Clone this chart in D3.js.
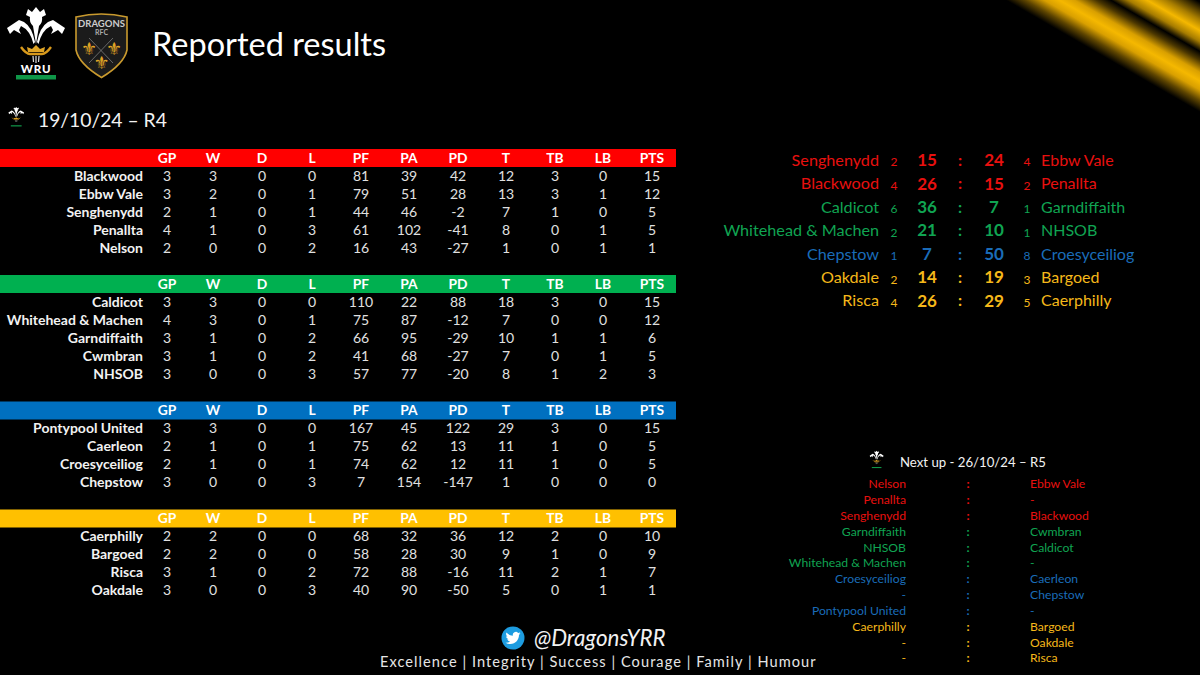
<!DOCTYPE html>
<html lang="en">
<head>
<meta charset="utf-8">
<title>Reported results</title>
<script src="https://d3js.org/d3.v7.min.js"></script>
<style>
  html, body { margin: 0; padding: 0; background: #000; }
  svg { display: block; }
  text { font-family: Lato, "Open Sans", sans-serif; }
</style>
</head>
<body>
<script>
// league tables
const columns = ["GP", "W", "D", "L", "PF", "PA", "PD", "T", "TB", "LB", "PTS"];

const redTeams = ["Blackwood", "Ebbw Vale", "Senghenydd", "Penallta", "Nelson"];
const redStats = [
  [3, 3, 0, 0, 81, 39, 42, 12, 3, 0, 15],
  [3, 2, 0, 1, 79, 51, 28, 13, 3, 1, 12],
  [2, 1, 0, 1, 44, 46, -2, 7, 1, 0, 5],
  [4, 1, 0, 3, 61, 102, -41, 8, 0, 1, 5],
  [2, 0, 0, 2, 16, 43, -27, 1, 0, 1, 1]
];
const greenTeams = ["Caldicot", "Whitehead & Machen", "Garndiffaith", "Cwmbran", "NHSOB"];
const greenStats = [
  [3, 3, 0, 0, 110, 22, 88, 18, 3, 0, 15],
  [4, 3, 0, 1, 75, 87, -12, 7, 0, 0, 12],
  [3, 1, 0, 2, 66, 95, -29, 10, 1, 1, 6],
  [3, 1, 0, 2, 41, 68, -27, 7, 0, 1, 5],
  [3, 0, 0, 3, 57, 77, -20, 8, 1, 2, 3]
];
const blueTeams = ["Pontypool United", "Caerleon", "Croesyceiliog", "Chepstow"];
const blueStats = [
  [3, 3, 0, 0, 167, 45, 122, 29, 3, 0, 15],
  [2, 1, 0, 1, 75, 62, 13, 11, 1, 0, 5],
  [2, 1, 0, 1, 74, 62, 12, 11, 1, 0, 5],
  [3, 0, 0, 3, 7, 154, -147, 1, 0, 0, 0]
];
const yellowTeams = ["Caerphilly", "Bargoed", "Risca", "Oakdale"];
const yellowStats = [
  [2, 2, 0, 0, 68, 32, 36, 12, 2, 0, 10],
  [2, 2, 0, 0, 58, 28, 30, 9, 1, 0, 9],
  [3, 1, 0, 2, 72, 88, -16, 11, 2, 1, 7],
  [3, 0, 0, 3, 40, 90, -50, 5, 0, 1, 1]
];

// reported results
const resultPool = ["red", "red", "green", "green", "blue", "yellow", "yellow"];
const homeTeams = ["Senghenydd", "Blackwood", "Caldicot", "Whitehead & Machen", "Chepstow", "Oakdale", "Risca"];
const homeTries = [2, 4, 6, 2, 1, 2, 4];
const homeScores = [15, 26, 36, 21, 7, 14, 26];
const awayScores = [24, 15, 7, 10, 50, 19, 29];
const awayTries = [4, 2, 1, 1, 8, 3, 5];
const awayTeams = ["Ebbw Vale", "Penallta", "Garndiffaith", "NHSOB", "Croesyceiliog", "Bargoed", "Caerphilly"];

// next round
const nextPool = ["red", "red", "red", "green", "green", "green", "blue", "blue", "blue", "yellow", "yellow", "yellow"];
const nextHome = ["Nelson", "Penallta", "Senghenydd", "Garndiffaith", "NHSOB", "Whitehead & Machen", "Croesyceiliog", "-", "Pontypool United", "Caerphilly", "-", "-"];
const nextAway = ["Ebbw Vale", "-", "Blackwood", "Cwmbran", "Caldicot", "-", "Caerleon", "Chepstow", "-", "Bargoed", "Oakdale", "Risca"];

const values = ["Excellence", "Integrity", "Success", "Courage", "Family", "Humour"];

const w = 1200, h = 675;
const colour = d3.scaleOrdinal()
  .domain(["red", "green", "blue", "yellow"])
  .range(["#ff0000", "#00b050", "#0070c0", "#ffc000"]);
const textColour = d3.scaleOrdinal()
  .domain(["red", "green", "blue", "yellow"])
  .range(["#e8100f", "#10a452", "#1a6cb8", "#f5b81a"]);

const svg = d3.select("body").append("svg").attr("width", w).attr("height", h);
svg.append("rect").attr("width", w).attr("height", h).attr("fill", "#000");

// stripes top right
const grad = svg.append("defs").append("linearGradient")
  .attr("id", "stripes").attr("gradientUnits", "userSpaceOnUse")
  .attr("x1", 1200).attr("y1", 112).attr("x2", 1247.6).attr("y2", 29.5);
[[0, "#000"], [0.1, "#5e4500"], [0.2, "#d9a000"], [0.28, "#f5b800"], [0.36, "#d9a000"], [0.47, "#4a3600"], [0.55, "#000"],
 [0.64, "#a67c00"], [0.74, "#f5b800"], [0.84, "#a67c00"], [1, "#000"]].forEach(s => {
  grad.append("stop").attr("offset", s[0]).attr("stop-color", s[1]);
});
svg.append("rect").attr("x", 990).attr("y", 0).attr("width", 210).attr("height", 125).attr("fill", "url(#stripes)");

// WRU feathers, drawn in its own 0-72 box
function feathers(g, withText) {
  g.append("path").attr("fill", "#fff")
    .attr("d", "M36 44 L33 26 Q29 22 30 17 L26 15 L28 9 L32 12 L36 7 L40 12 L44 9 L46 15 L42 17 Q43 22 39 26 Z");
  g.append("path").attr("fill", "#fff")
    .attr("d", "M33.5 44 Q30 30 21 26 L19 30 L21 34 L14 30 L10 34 L7 28 L19 20 L24 22 Q32 27 35 42 Z");
  g.append("path").attr("fill", "#fff")
    .attr("d", "M38.5 44 Q42 30 51 26 L53 30 L51 34 L58 30 L62 34 L65 28 L53 20 L48 22 Q40 27 37 42 Z");
  g.append("path").attr("fill", "none").attr("stroke", "#d99a1c").attr("stroke-width", 2.4)
    .attr("d", "M21 47 Q26 54 30 54 L42 54 Q46 54 51 47");
  g.append("path").attr("fill", "#e0a526")
    .attr("d", "M28 52 L27 47 L32 49 L36 45 L40 49 L45 47 L44 52 Z");
  g.append("path").attr("fill", "none").attr("stroke", "#ddd").attr("stroke-width", 1.2)
    .attr("d", "M33 56 L33.5 62 M36 56 L36 63 M39 56 L38.5 62");
  g.append("rect").attr("x", 16).attr("y", 75).attr("width", 40).attr("height", 4.5).attr("fill", "#0f9648");
  if (withText) {
    g.append("text").attr("x", 36).attr("y", 73).attr("text-anchor", "middle")
      .attr("font-size", 11.5).attr("font-weight", 900).attr("letter-spacing", 0.8).attr("fill", "#fff").text("WRU");
  }
}
feathers(svg.append("g"), true);
feathers(svg.append("g").attr("transform", "translate(6.5,105) scale(0.27)"), false);
feathers(svg.append("g").attr("transform", "translate(868,449) scale(0.24)"), false);

// Dragons shield
const shield = svg.append("g");
shield.append("path").attr("fill", "#1b1b1b").attr("stroke", "#c99a2e").attr("stroke-width", 1.6)
  .attr("d", "M76 17 Q101 11 127 17 L127 50 Q124 64 101.5 77.5 Q79 64 76 50 Z");
shield.append("path").attr("fill", "none").attr("stroke", "#888").attr("stroke-width", 0.7)
  .attr("d", "M89 38 L113 63 M113 38 L89 63");
shield.append("text").attr("x", 101.5).attr("y", 27).attr("text-anchor", "middle")
  .attr("font-size", 9.5).attr("font-weight", 700).attr("fill", "#ccc").text("DRAGONS");
shield.append("text").attr("x", 101.5).attr("y", 34.5).attr("text-anchor", "middle")
  .attr("font-size", 7).attr("font-weight", 700).attr("fill", "#aaa").text("RFC");
[[89, 55], [114, 55], [101.5, 69]].forEach(p => {
  shield.append("text").attr("x", p[0]).attr("y", p[1]).attr("text-anchor", "middle")
    .attr("font-size", 18).attr("fill", "#e0a526").style("font-family", "DejaVu Sans").text("\u269C");
});

// titles
svg.append("text").attr("x", 152).attr("y", 56).attr("font-size", 32.5).attr("fill", "#fff").text("Reported results");
svg.append("text").attr("x", 38).attr("y", 127).attr("font-size", 19.3).attr("fill", "#f2f2f2").text("19/10/24 \u2013 R4");

// tables
const x = d3.scaleOrdinal().domain(columns).range([167, 213, 262, 312, 361, 409, 458, 506, 555, 603, 652]);
const rowStep = 18, barH = 18;
const pools = [
  { key: "red", top: 149, teams: redTeams, stats: redStats },
  { key: "green", top: 275, teams: greenTeams, stats: greenStats },
  { key: "blue", top: 401.5, teams: blueTeams, stats: blueStats },
  { key: "yellow", top: 509.5, teams: yellowTeams, stats: yellowStats }
];

pools.forEach(pool => {
  const g = svg.append("g");
  const barTop = pool.top;
  const y = d3.scaleLinear().domain([0, 1]).range([barTop + barH + 9, barTop + barH + 9 + rowStep]);

  g.append("rect").attr("x", 0).attr("y", barTop).attr("width", 676).attr("height", barH).attr("fill", colour(pool.key));

  g.selectAll(".head").data(columns).enter().append("text")
    .attr("x", d => x(d)).attr("y", barTop + barH / 2).attr("dy", ".35em")
    .attr("text-anchor", "middle").attr("font-size", 13.8).attr("font-weight", 700).attr("fill", "#fff")
    .text(d => d);

  g.selectAll(".team").data(pool.teams).enter().append("text")
    .attr("x", 143).attr("y", (d, i) => y(i)).attr("dy", ".35em")
    .attr("text-anchor", "end").attr("font-size", 14).attr("font-weight", 700).attr("fill", "#f2f2f2")
    .text(d => d);

  pool.stats.forEach((row, i) => {
    g.selectAll(".cell" + i).data(row).enter().append("text")
      .attr("x", (d, j) => x(columns[j])).attr("y", y(i)).attr("dy", ".35em")
      .attr("text-anchor", "middle").attr("font-size", 14).attr("fill", "#e0e0e0")
      .text(d => d);
  });
});

// reported results, right side
const ry = d3.scaleBand().domain(d3.range(homeTeams.length)).range([148.5, 312.5]);
const results = svg.append("g");
function resultColumn(vals, xpos, anchor, size, weight, dy) {
  results.selectAll(null).data(vals).enter().append("text")
    .attr("x", xpos).attr("y", (d, i) => ry(i) + ry.bandwidth() / 2 + (dy || 0)).attr("dy", ".35em")
    .attr("text-anchor", anchor).attr("font-size", size).attr("font-weight", weight)
    .attr("fill", (d, i) => textColour(resultPool[i]))
    .text(d => d);
}
resultColumn(homeTeams, 879, "end", 16.2, 400);
resultColumn(homeTries, 894, "middle", 12, 400, 2);
resultColumn(homeScores, 927, "middle", 17, 700);
resultColumn(homeTeams.map(() => ":"), 960, "middle", 16, 700);
resultColumn(awayScores, 994, "middle", 17, 700);
resultColumn(awayTries, 1027, "middle", 12, 400, 2);
resultColumn(awayTeams, 1041, "start", 16, 400);

// next up
svg.append("text").attr("x", 900).attr("y", 467).attr("font-size", 13.2).attr("fill", "#f2f2f2").text("Next up - 26/10/24 \u2013 R5");
const ny = d3.scaleBand().domain(d3.range(nextHome.length)).range([476, 666]);
const next = svg.append("g");
function nextColumn(vals, xpos, anchor, weight) {
  next.selectAll(null).data(vals).enter().append("text")
    .attr("x", xpos).attr("y", (d, i) => ny(i) + ny.bandwidth() / 2).attr("dy", ".35em")
    .attr("text-anchor", anchor).attr("font-size", 12.2).attr("font-weight", weight)
    .attr("fill", (d, i) => textColour(nextPool[i]))
    .text(d => d);
}
nextColumn(nextHome, 906, "end", 400);
nextColumn(nextHome.map(() => ":"), 968, "middle", 700);
nextColumn(nextAway, 1030, "start", 400);

// twitter + footer
svg.append("circle").attr("cx", 513).attr("cy", 638).attr("r", 11.5).attr("fill", "#1d9ce0");
svg.append("path").attr("transform", "translate(505.5,630.5) scale(0.625)").attr("fill", "#fff")
  .attr("d", "M23.953 4.57a10 10 0 01-2.825.775 4.958 4.958 0 002.163-2.723c-.951.555-2.005.959-3.127 1.184a4.92 4.92 0 00-8.384 4.482C7.69 8.095 4.067 6.13 1.64 3.162a4.822 4.822 0 00-.666 2.475c0 1.71.87 3.213 2.188 4.096a4.904 4.904 0 01-2.228-.616v.06a4.923 4.923 0 003.946 4.827 4.996 4.996 0 01-2.212.085 4.936 4.936 0 004.604 3.417 9.867 9.867 0 01-6.102 2.105c-.39 0-.779-.023-1.17-.067a13.995 13.995 0 007.557 2.209c9.053 0 13.998-7.496 13.998-13.985 0-.21 0-.42-.015-.63A9.935 9.935 0 0024 4.59z");
svg.append("text").attr("x", 534).attr("y", 646).attr("font-size", 22.4).attr("font-style", "italic").attr("fill", "#f2f2f2").text("@DragonsYRR");
svg.append("text").attr("x", 380).attr("y", 667).attr("font-size", 14.6).attr("letter-spacing", 1.05).attr("fill", "#e6e6e6").text(values.join(" | "));
</script>
</body>
</html>
